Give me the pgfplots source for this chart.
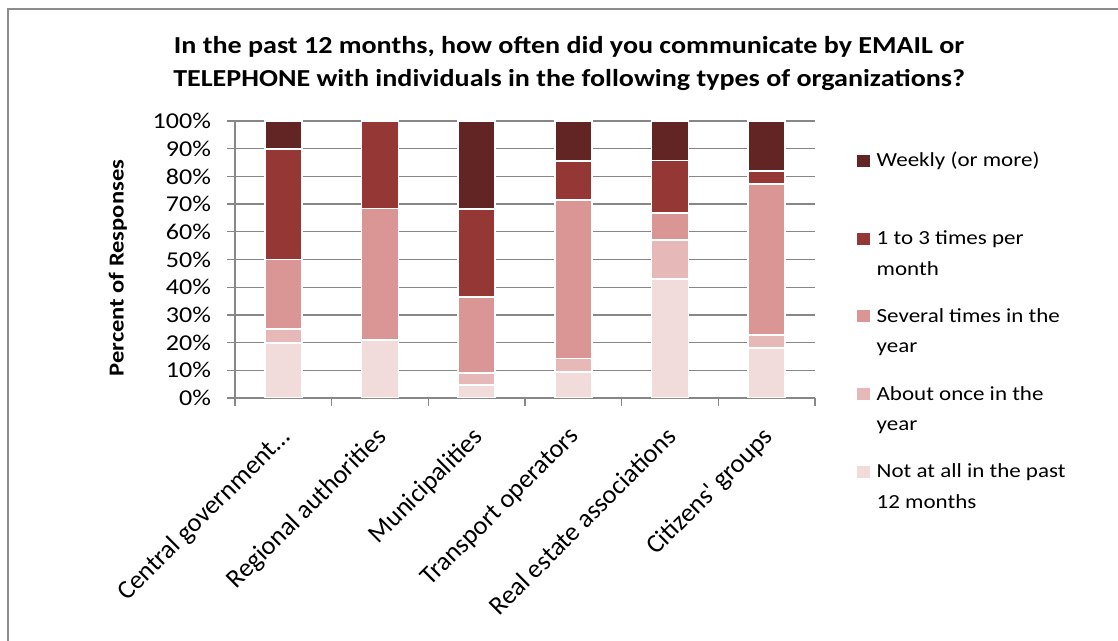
\documentclass[border=0pt]{standalone}
\usepackage{fontspec}
\setmainfont{Carlito}[FakeStretch=1.15]
\newfontfamily\plainfont{Carlito}
\usepackage{pgfplots}
\pgfplotsset{compat=1.18}
\definecolor{cNot}{HTML}{F2DCDB}
\definecolor{cAbout}{HTML}{E6B9B8}
\definecolor{cSev}{HTML}{D99694}
\definecolor{cOne}{HTML}{953735}
\definecolor{cWeek}{HTML}{632523}
\definecolor{gridc}{HTML}{878787}
\definecolor{framec}{HTML}{8C8C8C}
\begin{document}
\begin{tikzpicture}
\useasboundingbox (0,0) rectangle (838.5pt,480.75pt);
\draw[framec, line width=1.5pt] (6pt,-20pt) rectangle (860pt,474pt);
\begin{axis}[
  at={(176.25pt,182.25pt)}, anchor=south west,
  scale only axis, width=435pt, height=207.75pt,
  ybar stacked, bar width=27.75pt,
  xmin=-0.5, xmax=5.5, ymin=0, ymax=100,
  axis x line*=bottom, axis y line*=left,
  axis line style={gridc, line width=1pt, -},
  xtick={0,...,5},
  xticklabels={Central government…, Regional authorities, Municipalities, Transport operators, Real estate associations, Citizens' groups},
  minor xtick={-0.5,0.5,...,5.5},
  ytick={0,10,...,100},
  minor ytick={0,10,...,100},
  major tick length=0pt, minor tick length=6pt,
  tick align=outside,
  tick style={gridc, line width=1pt},
  ymajorgrids, major grid style={gridc, line width=1pt},
  /pgf/number format/assume math mode=true,
  yticklabel={\pgfmathprintnumber{\tick}\%},
  yticklabel style={font=\fontsize{17}{20}\selectfont, anchor=east, xshift=-14.5pt},
  xticklabel style={font=\plainfont\fontsize{19.7}{23}\selectfont, xshift=-4pt, yshift=-20.5pt, rotate=45, anchor=north east, inner sep=0pt},
  ylabel={Percent of Responses},
  ylabel style={at={(axis description cs:-0.2017,0.469)}, anchor=center, font=\bfseries\fontsize{16}{19}\selectfont},
  title={In the past 12 months, how often did you communicate by EMAIL or\\TELEPHONE with individuals in the following types of organizations?},
  title style={at={(axis description cs:0.576,1.1787)}, anchor=center, align=center, font=\bfseries\fontsize{18.3}{24.75}\selectfont},
  every axis plot/.append style={draw=white, line width=1.4pt},
  legend image code/.code={\fill[#1, draw=none] (0pt,7pt) rectangle (9.75pt,16pt); \path (12pt,-15.5pt);},
  reverse legend,
  legend cell align=left,
  legend style={at={(axis description cs:1.0652,0.9075)}, anchor=north west, draw=none, fill=none,
    font=\fontsize{15}{23}\selectfont, row sep=19.4pt,
    nodes={align=left}},
]
\addplot[fill=cNot] coordinates {(0,20) (1,21.05) (2,4.55) (3,9.52) (4,42.86) (5,18.18)};
\addplot[fill=cAbout] coordinates {(0,5) (1,0) (2,4.55) (3,4.76) (4,14.29) (5,4.55)};
\addplot[fill=cSev] coordinates {(0,25) (1,47.37) (2,27.27) (3,57.14) (4,9.52) (5,54.55)};
\addplot[fill=cOne] coordinates {(0,40) (1,31.58) (2,31.82) (3,14.29) (4,19.05) (5,4.55)};
\addplot[fill=cWeek] coordinates {(0,10) (1,0) (2,31.82) (3,14.29) (4,14.29) (5,18.18)};
\addlegendentry{Not at all in the past\\12 months}
\addlegendentry{About once in the\\year}
\addlegendentry{Several times in the\\year}
\addlegendentry{1 to 3 times per\\month}
\addlegendentry{Weekly (or more)\\\mbox{}}
\end{axis}
\end{tikzpicture}
\end{document}
